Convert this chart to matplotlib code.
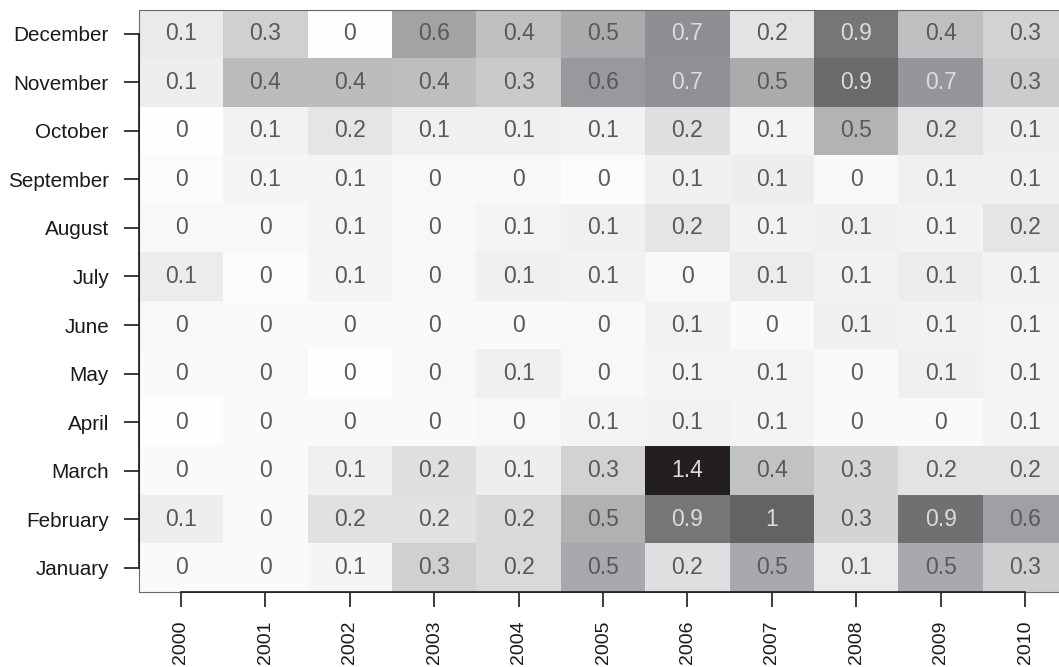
import matplotlib
matplotlib.use("Agg")
import matplotlib.pyplot as plt
from matplotlib.colors import LinearSegmentedColormap
from matplotlib.patches import Rectangle
import numpy as np

plt.rcParams['font.family'] = ['Liberation Sans', 'DejaVu Sans']

years = ["2000", "2001", "2002", "2003", "2004", "2005",
         "2006", "2007", "2008", "2009", "2010"]
months = ["January", "February", "March", "April", "May", "June",
          "July", "August", "September", "October", "November", "December"]

jan = [0.03, 0.03, 0.06, 0.29, 0.24, 0.54, 0.20, 0.54, 0.13, 0.54, 0.31]
feb = [0.10, 0.03, 0.19, 0.18, 0.23, 0.49, 0.86, 0.98, 0.27, 0.90, 0.60]
mar = [0.03, 0.03, 0.09, 0.20, 0.10, 0.28, 1.40, 0.38, 0.27, 0.17, 0.17]
apr = [0.00, 0.03, 0.03, 0.03, 0.04, 0.07, 0.08, 0.07, 0.03, 0.03, 0.06]
may = [0.03, 0.04, 0.00, 0.04, 0.09, 0.04, 0.07, 0.07, 0.03, 0.09, 0.07]
jun = [0.04, 0.03, 0.03, 0.03, 0.03, 0.04, 0.08, 0.03, 0.09, 0.08, 0.07]
jul = [0.12, 0.02, 0.07, 0.04, 0.09, 0.08, 0.04, 0.12, 0.08, 0.12, 0.08]
aug = [0.04, 0.04, 0.07, 0.04, 0.07, 0.09, 0.16, 0.08, 0.09, 0.08, 0.16]
sep = [0.02, 0.06, 0.07, 0.04, 0.04, 0.02, 0.09, 0.10, 0.04, 0.09, 0.09]
oct_ = [0.00, 0.08, 0.16, 0.09, 0.09, 0.08, 0.20, 0.07, 0.48, 0.17, 0.10]
nov = [0.10, 0.43, 0.42, 0.41, 0.33, 0.64, 0.70, 0.53, 0.94, 0.66, 0.32]
dec = [0.13, 0.29, 0.01, 0.58, 0.40, 0.53, 0.71, 0.17, 0.86, 0.40, 0.28]

values = np.array([jan, feb, mar, apr, may, jun, jul, aug, sep, oct_, nov, dec])

cmap = LinearSegmentedColormap.from_list(
    "greys", [(0.0, "#fdfefe"), (0.5, "#8f9093"), (1.0, "#231f20")])

W, H = 1059, 667
fig = plt.figure(figsize=(W / 100, H / 100), dpi=100)
left_px, right_px, top_px, bot_px = 138.8, 1067.2, 9.5, 592.0
ax = fig.add_axes([left_px / W, (H - bot_px) / H,
                   (right_px - left_px) / W, (bot_px - top_px) / H])

nx, ny = len(years), len(months)
ax.pcolormesh(np.arange(nx + 1) - 0.5, np.arange(ny + 1) - 0.5, values,
              cmap=cmap, vmin=0, vmax=1.4, shading="flat")
ax.set_xlim(-0.5, nx - 0.5)
ax.set_ylim(-0.5, ny - 0.5)

for i in range(ny):
    for j in range(nx):
        v = values[i, j]
        lab = f"{round(v, 1):g}"
        col = "#dcdcdd" if v >= 0.65 else "#58595b"
        ax.text(j, i, lab, ha="center", va="center", fontsize=16.5, color=col)

ax.add_patch(Rectangle((0, 0), 1, 1, transform=ax.transAxes, fill=False,
                       ec="#6a6a6a", lw=0.8, clip_on=False, zorder=2))

for s in ["top", "right"]:
    ax.spines[s].set_visible(False)
ax.spines["left"].set_bounds(0, ny - 1)
ax.spines["bottom"].set_bounds(0, nx - 1)
for s in ["left", "bottom"]:
    ax.spines[s].set_linewidth(1.2)
    ax.spines[s].set_color("#1a1a1a")
    ax.spines[s].set_zorder(3)

ax.set_xticks(range(nx))
ax.set_xticklabels(years, rotation=90)
ax.set_yticks(range(ny))
ax.set_yticklabels(months)
ax.tick_params(axis="both", length=11, width=1.2, color="#1a1a1a",
               labelcolor="#1a1a1a")
ax.tick_params(axis="y", labelsize=14.9, pad=10.5)
ax.tick_params(axis="x", labelsize=14.0, pad=9.5)

fig.savefig("out.png", dpi=100)
